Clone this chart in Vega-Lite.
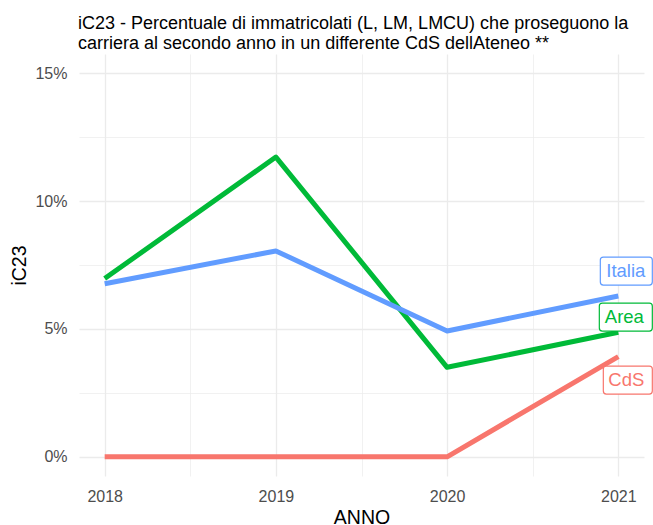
{
  "$schema": "https://vega.github.io/schema/vega-lite/v6.json",
  "width": 565,
  "height": 422,
  "autosize": {"type": "none"},
  "padding": {"left": 79, "top": 54, "right": 9, "bottom": 49},
  "background": "white",
  "config": {"view": {"stroke": null}, "font": "Liberation Sans"},
  "title": {
    "text": ["iC23 - Percentuale di immatricolati (L, LM, LMCU) che proseguono la", "carriera al secondo anno in un differente CdS dellAteneo **"],
    "anchor": "start",
    "frame": "group",
    "fontSize": 18,
    "fontWeight": "normal",
    "color": "black",
    "font": "Liberation Sans",
    "dx": -1,
    "lineHeight": 20,
    "offset": 1
  },
  "data": {
    "values": [
      {"serie": "CdS", "ANNO": 2018, "valore": 0},
      {"serie": "CdS", "ANNO": 2019, "valore": 0},
      {"serie": "CdS", "ANNO": 2020, "valore": 0},
      {"serie": "CdS", "ANNO": 2021, "valore": 3.92},
      {"serie": "Area", "ANNO": 2018, "valore": 6.97},
      {"serie": "Area", "ANNO": 2019, "valore": 11.72},
      {"serie": "Area", "ANNO": 2020, "valore": 3.5},
      {"serie": "Area", "ANNO": 2021, "valore": 4.87},
      {"serie": "Italia", "ANNO": 2018, "valore": 6.77},
      {"serie": "Italia", "ANNO": 2019, "valore": 8.05},
      {"serie": "Italia", "ANNO": 2020, "valore": 4.92},
      {"serie": "Italia", "ANNO": 2021, "valore": 6.29}
    ]
  },
  "encoding": {
    "x": {
      "field": "ANNO",
      "type": "quantitative",
      "scale": {"domain": [2017.85, 2021.15], "nice": false, "zero": false},
      "axis": {
        "title": "ANNO",
        "values": [2018, 2018.5, 2019, 2019.5, 2020, 2020.5, 2021],
        "labelExpr": "datum.value % 1 === 0 ? datum.value : ''",
        "domain": false,
        "ticks": false,
        "labelFlush": false,
        "labelOverlap": false,
        "gridColor": "#ebebeb",
        "gridWidth": {"condition": {"test": "datum.value % 1 === 0", "value": 1.3}, "value": 0.7},
        "labelFontSize": 16,
        "labelColor": "#4d4d4d",
        "labelPadding": 12,
        "titleFontSize": 19.5,
        "titleFontWeight": "normal",
        "titleColor": "black",
        "titlePadding": 4
      }
    },
    "y": {
      "field": "valore",
      "type": "quantitative",
      "scale": {"domain": [-0.75, 15.75], "nice": false, "zero": false},
      "axis": {
        "title": "iC23",
        "values": [0, 2.5, 5, 7.5, 10, 12.5, 15],
        "labelExpr": "datum.value % 5 === 0 ? datum.value + '%' : ''",
        "domain": false,
        "ticks": false,
        "labelOverlap": false,
        "labelFlush": false,
        "gridColor": "#ebebeb",
        "gridWidth": {"condition": {"test": "datum.value % 5 === 0", "value": 1.3}, "value": 0.7},
        "labelFontSize": 16,
        "labelColor": "#4d4d4d",
        "labelPadding": 12,
        "titleFontSize": 19.5,
        "titleFontWeight": "normal",
        "titleColor": "black",
        "titlePadding": 5
      }
    }
  },
  "layer": [
    {
      "mark": {"type": "line", "strokeWidth": 5, "strokeCap": "butt", "strokeJoin": "round"},
      "encoding": {
        "color": {
          "field": "serie",
          "type": "nominal",
          "scale": {"domain": ["CdS", "Area", "Italia"], "range": ["#F8766D", "#00BA38", "#619CFF"]},
          "legend": null
        }
      }
    },
    {
      "transform": [{"filter": "datum.ANNO === 2021"}],
      "mark": {"type": "point", "filled": false, "fill": "white", "opacity": 1, "strokeWidth": 1.2, "size": 4},
      "encoding": {
        "stroke": {
          "field": "serie",
          "type": "nominal",
          "scale": {"domain": ["CdS", "Area", "Italia"], "range": ["#F8766D", "#00BA38", "#619CFF"]},
          "legend": null
        },
        "shape": {
          "field": "serie",
          "type": "nominal",
          "scale": {
            "domain": ["CdS", "Area", "Italia"],
            "range": [
              "M-12,9.5 H31 Q34,9.5 34,12.5 V34.5 Q34,37.5 31,37.5 H-12 Q-15,37.5 -15,34.5 V12.5 Q-15,9.5 -12,9.5 Z",
              "M-16,-29.2 H31 Q34,-29.2 34,-26.2 V-4.2 Q34,-1.2 31,-1.2 H-16 Q-19,-1.2 -19,-4.2 V-26.2 Q-19,-29.2 -16,-29.2 Z",
              "M-15,-38.9 H31 Q34,-38.9 34,-35.9 V-13.9 Q34,-10.9 31,-10.9 H-15 Q-18,-10.9 -18,-13.9 V-35.9 Q-18,-38.9 -15,-38.9 Z"
            ]
          },
          "legend": null
        }
      }
    },
    {
      "transform": [{"filter": "datum.ANNO === 2021 && datum.serie === 'Italia'"}],
      "mark": {"type": "text", "align": "center", "baseline": "middle", "fontSize": 18.5, "dx": 7.5, "dy": -24.9, "color": "#619CFF"},
      "encoding": {"text": {"field": "serie"}}
    },
    {
      "transform": [{"filter": "datum.ANNO === 2021 && datum.serie === 'Area'"}],
      "mark": {"type": "text", "align": "center", "baseline": "middle", "fontSize": 18.5, "dx": 6, "dy": -15.2, "color": "#00BA38"},
      "encoding": {"text": {"field": "serie"}}
    },
    {
      "transform": [{"filter": "datum.ANNO === 2021 && datum.serie === 'CdS'"}],
      "mark": {"type": "text", "align": "center", "baseline": "middle", "fontSize": 18.5, "dx": 8, "dy": 23.5, "color": "#F8766D"},
      "encoding": {"text": {"field": "serie"}}
    }
  ]
}
